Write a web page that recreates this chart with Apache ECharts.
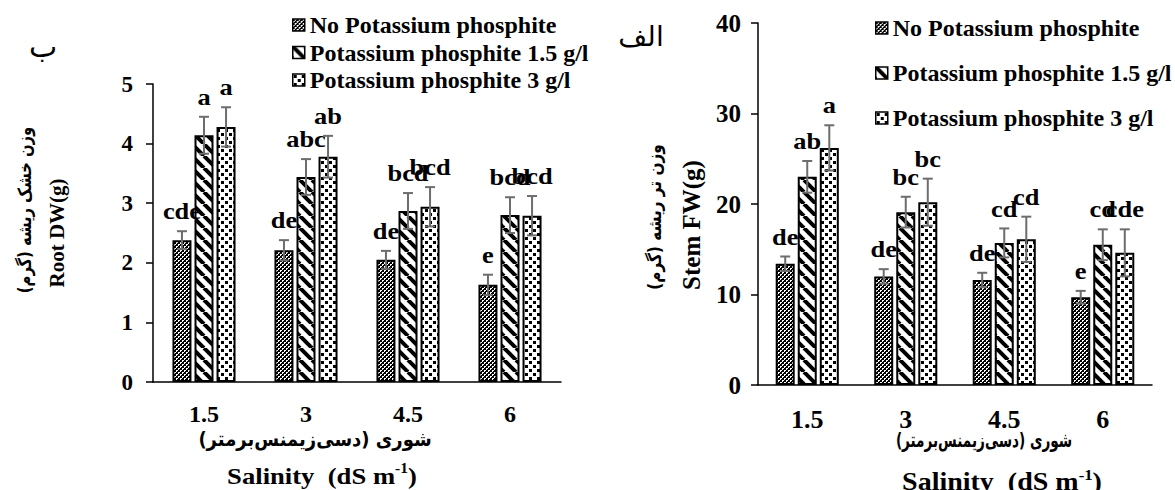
<!DOCTYPE html>
<html>
<head>
<meta charset="utf-8">
<script src="https://cdn.jsdelivr.net/npm/echarts@6/dist/echarts.min.js"></script>
<style>
  html, body { margin: 0; padding: 0; background: #fff; }
  #chart { width: 1175px; height: 490px; }
</style>
</head>
<body>
<div id="chart"></div>
<script>
// salinity levels (dS/m)
const categories = ['1.5', '3', '4.5', '6'];
const seriesNames = ['No Potassium phosphite', 'Potassium phosphite 1.5 g/l', 'Potassium phosphite 3 g/l'];

// root dry weight (g)
const rootNone = [2.38, 2.21, 2.05, 1.63];
const rootP15 = [4.14, 3.44, 2.87, 2.80];
const rootP3 = [4.28, 3.78, 2.94, 2.79];
const rootNoneErr = [0.15, 0.17, 0.15, 0.17];
const rootP15Err = [0.31, 0.30, 0.30, 0.30];
const rootP3Err = [0.33, 0.35, 0.33, 0.33];
const rootNoneLetters = ['cde', 'de', 'de', 'e'];
const rootP15Letters = ['a', 'abc', 'bcd', 'bcd'];
const rootP3Letters = ['a', 'ab', 'bcd', 'bcd'];

// stem fresh weight (g)
const stemNone = [13.4, 12.0, 11.6, 9.7];
const stemP15 = [23.0, 19.1, 15.7, 15.5];
const stemP3 = [26.2, 20.2, 16.1, 14.6];
const stemNoneErr = [0.8, 0.8, 0.8, 0.7];
const stemP15Err = [1.75, 1.7, 1.6, 1.7];
const stemP3Err = [2.5, 2.6, 2.5, 2.6];
const stemNoneLetters = ['de', 'de', 'de', 'e'];
const stemP15Letters = ['ab', 'bc', 'cd', 'cd'];
const stemP3Letters = ['a', 'bc', 'cd', 'cde'];

const serif = '"Liberation Serif", "Times New Roman", serif';
const persian = '"DejaVu Sans", sans-serif';

// fill patterns
function makePattern(size, draw) {
  const c = document.createElement('canvas');
  c.width = size; c.height = size;
  const ctx = c.getContext('2d');
  ctx.fillStyle = '#fff';
  ctx.fillRect(0, 0, size, size);
  ctx.fillStyle = '#000';
  ctx.strokeStyle = '#000';
  draw(ctx);
  return { image: c.toDataURL(), repeat: 'repeat' };
}
const checkFill = makePattern(4, ctx => {
  ctx.fillRect(0, 0, 2, 2);
  ctx.fillRect(2, 2, 2, 2);
  ctx.fillRect(1, 3, 1, 1);
  ctx.fillRect(3, 1, 1, 1);
});
const stripeFill = makePattern(12, ctx => {
  ctx.lineWidth = 4;
  [-12, 0, 12].forEach(k => {
    ctx.beginPath();
    ctx.moveTo(k, 0);
    ctx.lineTo(k + 12, 12);
    ctx.stroke();
  });
});
const dotFill = makePattern(8, ctx => {
  ctx.fillRect(1, 1, 3, 3);
  ctx.fillRect(5, 5, 3, 3);
});
const fills = [checkFill, stripeFill, dotFill];

const barW = 19;
const gapRatio = 0.16;

function barSeries(name, i, values, axis) {
  return {
    name: name,
    type: 'bar',
    xAxisIndex: axis,
    yAxisIndex: axis,
    data: values,
    barWidth: barW,
    barGap: gapRatio * 100 + '%',
    itemStyle: { color: fills[i], borderColor: '#000', borderWidth: 2 },
    emphasis: { disabled: true }
  };
}

function errSeries(i, values, errs, letters, axis) {
  return {
    type: 'custom',
    name: 'err' + axis + i,
    xAxisIndex: axis,
    yAxisIndex: axis,
    z: 5,
    data: values.map((v, k) => [k, v]),
    renderItem: function (params, api) {
      const k = api.value(0);
      const v = api.value(1);
      const e = errs[params.dataIndex];
      const x = api.coord([k, v])[0] + (i - 1) * barW * (1 + gapRatio);
      const yHi = api.coord([k, v + e])[1];
      const yLo = api.coord([k, v - e])[1];
      const lineStyle = { stroke: '#6d6d6d', lineWidth: 2 };
      return {
        type: 'group',
        children: [
          { type: 'line', shape: { x1: x, y1: yHi, x2: x, y2: yLo }, style: lineStyle },
          { type: 'line', shape: { x1: x - 5, y1: yHi, x2: x + 5, y2: yHi }, style: lineStyle },
          { type: 'line', shape: { x1: x - 5, y1: yLo, x2: x + 5, y2: yLo }, style: lineStyle },
          {
            type: 'text', x: x, y: yHi - 8, scaleX: 1.1,
            style: {
              text: letters[params.dataIndex], fill: '#000',
              font: 'bold 24px ' + serif, align: 'center', verticalAlign: 'bottom'
            }
          }
        ]
      };
    }
  };
}

function label(text, x, y, size, opts) {
  opts = opts || {};
  return {
    type: 'text', x: x, y: y, rotation: opts.rot || 0, scaleX: opts.sx || 1,
    style: {
      text: text, fill: '#000',
      font: (opts.weight || 'bold') + ' ' + size + 'px ' + (opts.family || serif),
      align: 'center', verticalAlign: 'middle'
    }
  };
}

function salinity(x, y, size, sx) {
  return {
    type: 'text', x: x, y: y, scaleX: sx,
    style: {
      text: '{a|Salinity  (dS m}{s|-1}{a|)}',
      align: 'center', verticalAlign: 'middle',
      rich: {
        a: { font: 'bold ' + size + 'px ' + serif, fill: '#000', lineHeight: size + 2, verticalAlign: 'bottom' },
        s: { font: 'bold ' + Math.round(size * 0.6) + 'px ' + serif, fill: '#000', verticalAlign: 'top', lineHeight: size + 2 }
      }
    }
  };
}

const chart = echarts.init(document.getElementById('chart'), null, { renderer: 'svg' });

function yAxisOpt(grid, max, interval, size, margin) {
  return {
    type: 'value', gridIndex: grid, min: 0, max: max, interval: interval,
    splitLine: { show: false },
    axisLine: { show: true, lineStyle: { color: '#000', width: 1.5 } },
    axisTick: { show: true, length: 7, lineStyle: { color: '#000', width: 1.5 } },
    axisLabel: { color: '#000', fontFamily: serif, fontWeight: 'bold', fontSize: size, margin: margin }
  };
}
function xAxisOpt(grid, size, margin) {
  return {
    type: 'category', gridIndex: grid, data: categories,
    axisLine: { show: true, lineStyle: { color: '#000', width: 1.5 } },
    axisTick: { show: false },
    axisLabel: { color: '#000', fontFamily: serif, fontWeight: 'bold', fontSize: size, margin: margin }
  };
}
function legendOpt(left, top, gap) {
  return {
    data: seriesNames, orient: 'vertical', left: left, top: top, padding: 0,
    itemWidth: 12, itemHeight: 12, itemGap: gap, icon: 'rect',
    itemStyle: { borderColor: '#000', borderWidth: 1.5 },
    textStyle: { color: '#000', fontFamily: serif, fontWeight: 'bold', fontSize: 24, lineHeight: 24 },
    selectedMode: false
  };
}

const options = {
  backgroundColor: '#fff',
  animation: false,
  grid: [
    { left: 153, top: 84, width: 408, height: 298 },
    { left: 758, top: 23, width: 394, height: 362 }
  ],
  xAxis: [xAxisOpt(0, 24, 20), xAxisOpt(1, 26, 21)],
  yAxis: [yAxisOpt(0, 5, 1, 23, 20), yAxisOpt(1, 40, 10, 25, 17)],
  legend: [legendOpt(292, 13, 3.5), legendOpt(875, 16, 21)],
  series: [
    barSeries(seriesNames[0], 0, rootNone, 0),
    barSeries(seriesNames[1], 1, rootP15, 0),
    barSeries(seriesNames[2], 2, rootP3, 0),
    barSeries(seriesNames[0], 0, stemNone, 1),
    barSeries(seriesNames[1], 1, stemP15, 1),
    barSeries(seriesNames[2], 2, stemP3, 1),
    errSeries(0, rootNone, rootNoneErr, rootNoneLetters, 0),
    errSeries(1, rootP15, rootP15Err, rootP15Letters, 0),
    errSeries(2, rootP3, rootP3Err, rootP3Letters, 0),
    errSeries(0, stemNone, stemNoneErr, stemNoneLetters, 1),
    errSeries(1, stemP15, stemP15Err, stemP15Letters, 1),
    errSeries(2, stemP3, stemP3Err, stemP3Letters, 1)
  ],
  graphic: [
    label('ب', 43, 46, 30, { weight: 'normal', family: persian }),
    label('الف', 641, 36, 28, { weight: 'normal', family: persian }),
    label('وزن خشک ریشه (گرم)', 25, 210, 18, { rot: Math.PI / 2, family: persian, sx: 0.82 }),
    label('Root DW(g)', 57, 233, 21, { rot: Math.PI / 2 }),
    label('وزن تر ریشه (گرم)', 655, 217, 18, { rot: Math.PI / 2, family: persian, sx: 0.85 }),
    label('Stem FW(g)', 691, 225, 25, { rot: Math.PI / 2 }),
    label('شوری (دسی‌زیمنس‌برمتر)', 315, 439, 20, { family: persian, sx: 0.9 }),
    label('شوری (دسی‌زیمنس‌برمتر)', 984, 440, 20, { family: persian, sx: 0.68 }),
    salinity(322, 474, 24, 1.11),
    salinity(1002, 481, 25, 1.12)
  ]
};

chart.setOption(options);
</script>
</body>
</html>
